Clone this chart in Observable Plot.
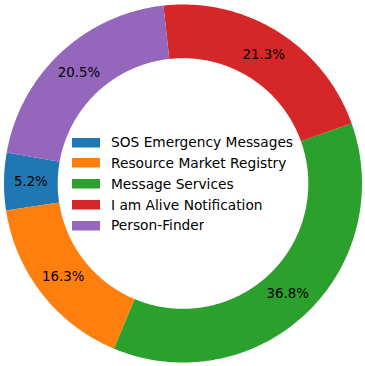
<!DOCTYPE html>
<html>
<head>
<meta charset="utf-8">
<script src="https://cdn.jsdelivr.net/npm/d3@7"></script>
<script src="https://cdn.jsdelivr.net/npm/@observablehq/plot@0.6"></script>
<style>
  html, body { margin: 0; padding: 0; background: #fff; }
  #wrap { position: relative; width: 365px; height: 366px; font-family: "DejaVu Sans", sans-serif; }
  #legend { position: absolute; left: 72px; top: 132px; }
  #legend .lg-swatches { margin: 0 !important; min-height: 0 !important; font-family: "DejaVu Sans", sans-serif !important; font-size: 13.75px !important; color: #000; }
  #legend .lg-swatch { height: 20.75px; margin: 0 !important; padding: 0 !important; display: flex; align-items: center; }
  #legend .lg-swatch svg { margin-right: 11px !important; }
</style>
</head>
<body>
<div id="wrap"><div id="chart"></div><div id="legend"></div></div>
<script>
const categories = ["SOS Emergency Messages", "Resource Market Registry", "Message Services", "I am Alive Notification", "Person-Finder"];
const values = [5.2, 16.3, 36.8, 21.3, 20.5];
const colors = ["#1f77b4", "#ff7f0e", "#2ca02c", "#d62728", "#9467bd"];
const labels = ["5.2%", "16.3%", "36.8%", "21.3%", "20.5%"];

const startAngle = 170;   // degrees, counter-clockwise from east
const innerRatio = 0.7;
const pctDistance = 0.85;

const total = d3.sum(values);
const wedgePts = [];
const labelRows = [];
let acc = startAngle;
values.forEach((v, i) => {
  const span = v / total * 360;
  const a0 = acc, a1 = acc + span;
  const n = Math.max(8, Math.ceil(span * 2));
  for (let k = 0; k <= n; k++) {
    const a = (a0 + (a1 - a0) * k / n) * Math.PI / 180;
    wedgePts.push({category: categories[i], x: Math.cos(a), y: Math.sin(a)});
  }
  for (let k = n; k >= 0; k--) {
    const a = (a0 + (a1 - a0) * k / n) * Math.PI / 180;
    wedgePts.push({category: categories[i], x: innerRatio * Math.cos(a), y: innerRatio * Math.sin(a)});
  }
  const am = (a0 + a1) / 2 * Math.PI / 180;
  labelRows.push({category: categories[i], text: labels[i], x: pctDistance * Math.cos(am), y: pctDistance * Math.sin(am)});
  acc = a1;
});

const W = 365, H = 366, R = 179, cx = 182.5, cy = 183;
const chart = Plot.plot({
  width: W, height: H, margin: 0,
  x: {domain: [-cx / R, (W - cx) / R], axis: null},
  y: {domain: [-(H - cy) / R, cy / R], axis: null},
  color: {domain: categories, range: colors},
  style: {fontFamily: "DejaVu Sans, sans-serif", background: "#fff"},
  marks: [
    Plot.line(wedgePts, {x: "x", y: "y", z: "category", fill: "category", stroke: "none", curve: "linear"}),
    Plot.text(labelRows, {x: "x", y: "y", text: "text", fill: "#000", fontSize: 13.33})
  ]
});
document.getElementById("chart").appendChild(chart);

const legend = Plot.legend({
  color: {type: "ordinal", domain: categories, range: colors},
  legend: "swatches",
  columns: 1,
  swatchWidth: 28,
  swatchHeight: 9.5,
  className: "lg"
});
document.getElementById("legend").appendChild(legend);
</script>
</body>
</html>
